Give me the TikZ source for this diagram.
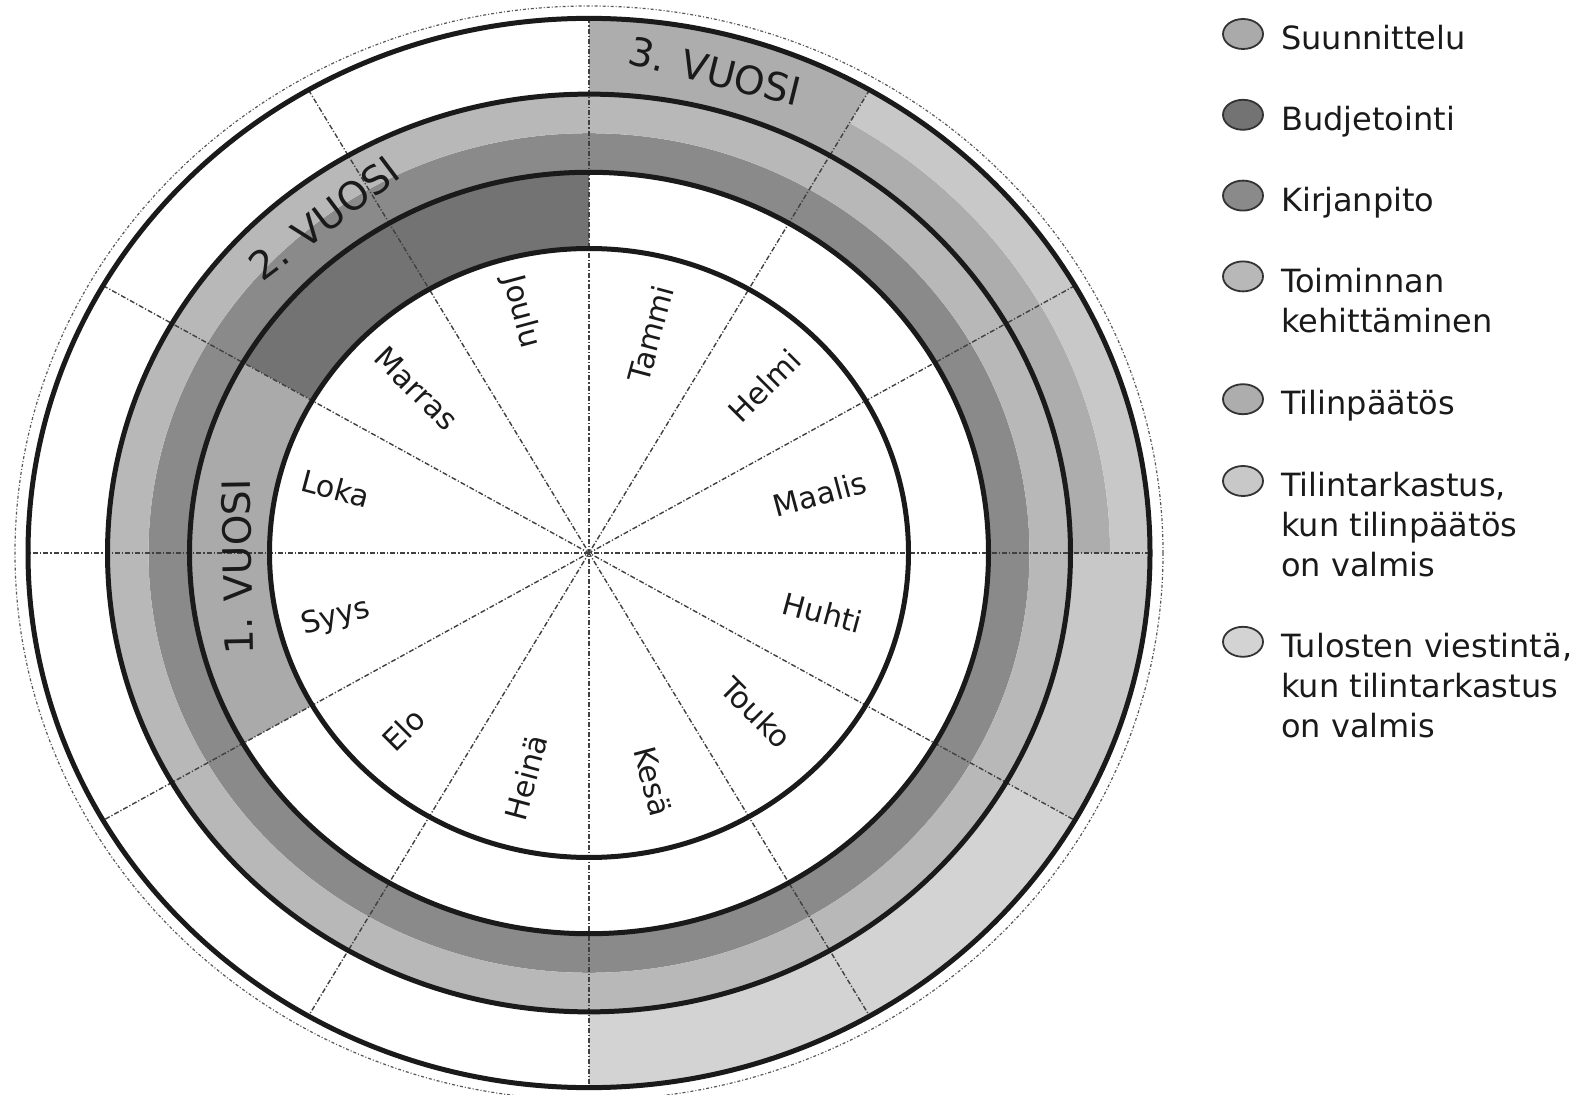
\documentclass[tikz,border=0pt]{standalone}
\usepackage{fontspec}
\setmainfont{DejaVu Sans}
\usetikzlibrary{positioning,shapes.geometric}

\definecolor{suunnittelu}{HTML}{AAAAAA}
\definecolor{budjetointi}{HTML}{737373}
\definecolor{kirjanpito}{HTML}{8A8A8A}
\definecolor{kehittaminen}{HTML}{B8B8B8}
\definecolor{tilinpaatos}{HTML}{ADADAD}
\definecolor{tilintarkastus}{HTML}{C8C8C8}
\definecolor{viestinta}{HTML}{D3D3D3}
\definecolor{ink}{HTML}{1A1A1A}

\begin{document}
\begin{tikzpicture}[
	x=0.5pt, y=0.5pt,
	ring/.style={draw=ink, line width=2.5pt},
	spoke/.style={draw=black!75, line width=0.7pt, dash pattern=on 2.5pt off 1pt on 0.6pt off 1pt},
	month/.style={text=ink, font=\fontsize{15}{18}\selectfont, inner sep=0pt},
	year/.style={text=ink, font=\fontsize{19.5}{23}\selectfont, inner sep=0pt},
	legmark/.style={draw=black!80, line width=0.9pt, ellipse, minimum width=20pt, minimum height=15pt, inner sep=0pt},
	legtext/.style={text=ink, font=\fontsize{16}{20}\selectfont, align=left, inner sep=0pt}
	]
	\useasboundingbox (0,0) rectangle (1585,1094);

	% year wheel
	\begin{scope}[shift={(589,541)}, yscale=0.953]
		% 1. vuosi
		\fill[budjetointi] (90:319.5) arc[start angle=90, end angle=150, radius=319.5] -- (150:399.5) arc[start angle=150, end angle=90, radius=399.5] -- cycle;
		\fill[suunnittelu] (150:319.5) arc[start angle=150, end angle=210, radius=319.5] -- (210:399.5) arc[start angle=210, end angle=150, radius=399.5] -- cycle;
		% 2. vuosi
		\fill[kirjanpito, even odd rule] (0,0) circle[radius=440.5] (0,0) circle[radius=399.5];
		\fill[kehittaminen, even odd rule] (0,0) circle[radius=481.5] (0,0) circle[radius=440.5];
		% 3. vuosi
		\fill[tilinpaatos] (60:481.5) arc[start angle=60, end angle=90, radius=481.5] -- (90:561) arc[start angle=90, end angle=60, radius=561] -- cycle;
		\fill[tilinpaatos] (0:481.5) arc[start angle=0, end angle=60, radius=481.5] -- (60:521) arc[start angle=60, end angle=0, radius=521] -- cycle;
		\fill[tilintarkastus] (0:521) arc[start angle=0, end angle=60, radius=521] -- (60:561) arc[start angle=60, end angle=0, radius=561] -- cycle;
		\fill[tilintarkastus] (-30:481.5) arc[start angle=-30, end angle=0, radius=481.5] -- (0:561) arc[start angle=0, end angle=-30, radius=561] -- cycle;
		\fill[viestinta] (-90:481.5) arc[start angle=-90, end angle=-30, radius=481.5] -- (-30:561) arc[start angle=-30, end angle=-90, radius=561] -- cycle;

		% month spokes
		\draw[spoke] (0:561) -- (180:561);
		\draw[spoke] (30:561) -- (210:561);
		\draw[spoke] (60:561) -- (240:561);
		\draw[spoke] (90:561) -- (270:561);
		\draw[spoke] (120:561) -- (300:561);
		\draw[spoke] (150:561) -- (330:561);

		% rings
		\draw[ring] (0,0) circle[radius=319.5];
		\draw[ring] (0,0) circle[radius=399.5];
		\draw[ring] (0,0) circle[radius=481.5];
		\draw[ring] (0,0) circle[radius=561];
		\draw[draw=black!65, line width=0.6pt, dash pattern=on 1.5pt off 1pt on 0.5pt off 1pt] (0,0) circle[radius=574];

		% months
		\node[month, rotate=75] (tammi) at (75:238) {Tammi};
		\node[month, rotate=45] (helmi) at (45:248) {Helmi};
		\node[month, rotate=15] (maalis) at (15:239) {Maalis};
		\node[month, rotate=-15] (huhti) at (-15:242) {Huhti};
		\node[month, rotate=-45] (touko) at (-45:237) {Touko};
		\node[month, rotate=-75] (kesa) at (-75:248) {Kesä};
		\node[month, rotate=75] (heina) at (255:244) {Heinä};
		\node[month, rotate=45] (elo) at (225:262) {Elo};
		\node[month, rotate=15] (syys) at (195:262) {Syys};
		\node[month, rotate=-15] (loka) at (165:262) {Loka};
		\node[month, rotate=-45] (marras) at (135:244) {Marras};
		\node[month, rotate=-75] (joulu) at (105:262) {Joulu};

		% years
		\node[year, rotate=91] (vuosi1) at (182.4:352) {1. VUOSI};
		\node[year, rotate=37] (vuosi2) at (127:440) {2. VUOSI};
		\node[year, rotate=-14] (vuosi3) at (76:521) {3. VUOSI};
	\end{scope}

	% legend
	\node[legmark, fill=suunnittelu] (suun) at (1243,1060) {};
	\node[legmark, fill=budjetointi, below=24.5pt of suun] (budj) {};
	\node[legmark, fill=kirjanpito, below=24.5pt of budj] (kirj) {};
	\node[legmark, fill=kehittaminen, below=24.5pt of kirj] (kehi) {};
	\node[legmark, fill=tilinpaatos, below=45.5pt of kehi] (tilp) {};
	\node[legmark, fill=tilintarkastus, below=25pt of tilp] (tilt) {};
	\node[legmark, fill=viestinta, below=64.5pt of tilt] (tulo) {};

	\node[legtext, below right=1.1pt and 11.5pt of suun.north east] (suuntext) {Suunnittelu};
	\node[legtext, below right=1.1pt and 11.5pt of budj.north east] (budjtext) {Budjetointi};
	\node[legtext, below right=1.1pt and 11.5pt of kirj.north east] (kirjtext) {Kirjanpito};
	\node[legtext, below right=1.1pt and 11.5pt of kehi.north east] (kehitext) {Toiminnan\\kehittäminen};
	\node[legtext, below right=1.1pt and 11.5pt of tilp.north east] (tilptext) {Tilinpäätös};
	\node[legtext, below right=1.1pt and 11.5pt of tilt.north east] (tilttext) {Tilintarkastus,\\kun tilinpäätös\\on valmis};
	\node[legtext, below right=1.1pt and 11.5pt of tulo.north east] (tulotext) {Tulosten viestintä,\\kun tilintarkastus\\on valmis};

\end{tikzpicture}
\end{document}
